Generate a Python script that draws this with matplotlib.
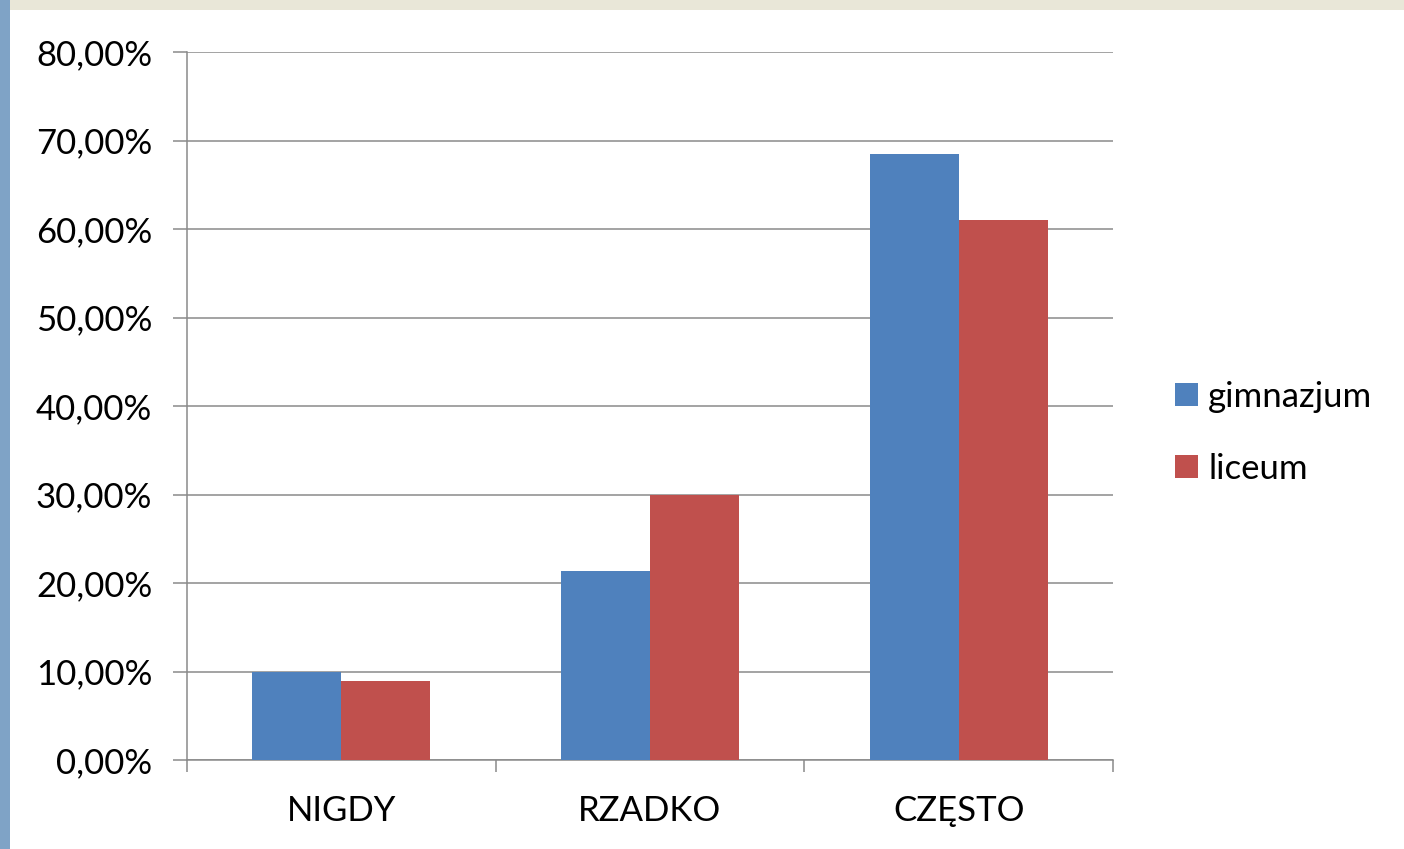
import numpy as np
import matplotlib.pyplot as plt
from matplotlib.patches import Rectangle
from matplotlib.ticker import FuncFormatter

categories = ['NIGDY', 'RZADKO', 'CZĘSTO']
series_names = ['gimnazjum', 'liceum']
gimnazjum = [10.0, 21.4, 68.5]
liceum = [8.9, 30.0, 61.0]
colors = ['#4F81BD', '#C0504D']

plt.rcParams['font.family'] = ['Lato', 'DejaVu Sans']

fig = plt.figure(figsize=(14.04, 8.49), dpi=100)
fig.patch.set_facecolor('#e9e7d8')
# background: blue strip at left, beige at top, white chart area
fig.patches.append(Rectangle((0, 0), 10 / 1404, 1, transform=fig.transFigure,
                             facecolor='#7fa3c6', edgecolor='none', zorder=-2))
fig.patches.append(Rectangle((10 / 1404, 0), 1, 1 - 10 / 849, transform=fig.transFigure,
                             facecolor='white', edgecolor='none', zorder=-2))

ax = fig.add_axes([187 / 1404, 1 - 760 / 849, 926 / 1404, 708 / 849])
ax.set_zorder(1)
ax.set_facecolor('none')

x = np.arange(len(categories))
w = 0.288
ax.bar(x - w / 2, gimnazjum, w, color=colors[0], label=series_names[0], zorder=3)
ax.bar(x + w / 2, liceum, w, color=colors[1], label=series_names[1], zorder=3)

ax.set_xlim(-0.5, 2.5)
ax.set_ylim(0, 80)
ax.set_yticks(np.arange(0, 81, 10))
ax.yaxis.set_major_formatter(FuncFormatter(lambda v, p: f'{v:.2f}'.replace('.', ',') + '%'))
ax.yaxis.grid(True, color='#8a8a8a', linewidth=1.1, zorder=0)
ax.set_axisbelow(True)

ax.set_xticks(x)
ax.set_xticklabels(categories)
ax.set_xticks([-0.5, 0.5, 1.5, 2.5], minor=True)
ax.tick_params(axis='x', which='major', length=0, pad=25, labelsize=25)
ax.tick_params(axis='x', which='minor', length=8.5, width=1.1, color='#8a8a8a')
ax.tick_params(axis='y', length=10, width=1.1, color='#8a8a8a', pad=15, labelsize=25)

for s in ['top', 'right']:
    ax.spines[s].set_visible(False)
for s in ['left', 'bottom']:
    ax.spines[s].set_color('#8a8a8a')
    ax.spines[s].set_linewidth(1.1)

ax.legend(loc='center left', bbox_to_anchor=(1.048, 0.462), frameon=False,
          fontsize=25, handlelength=0.66, handleheight=0.66, handletextpad=0.3,
          labelspacing=1.15, borderpad=0)

fig.savefig('out.png', dpi=100, facecolor=fig.get_facecolor())
